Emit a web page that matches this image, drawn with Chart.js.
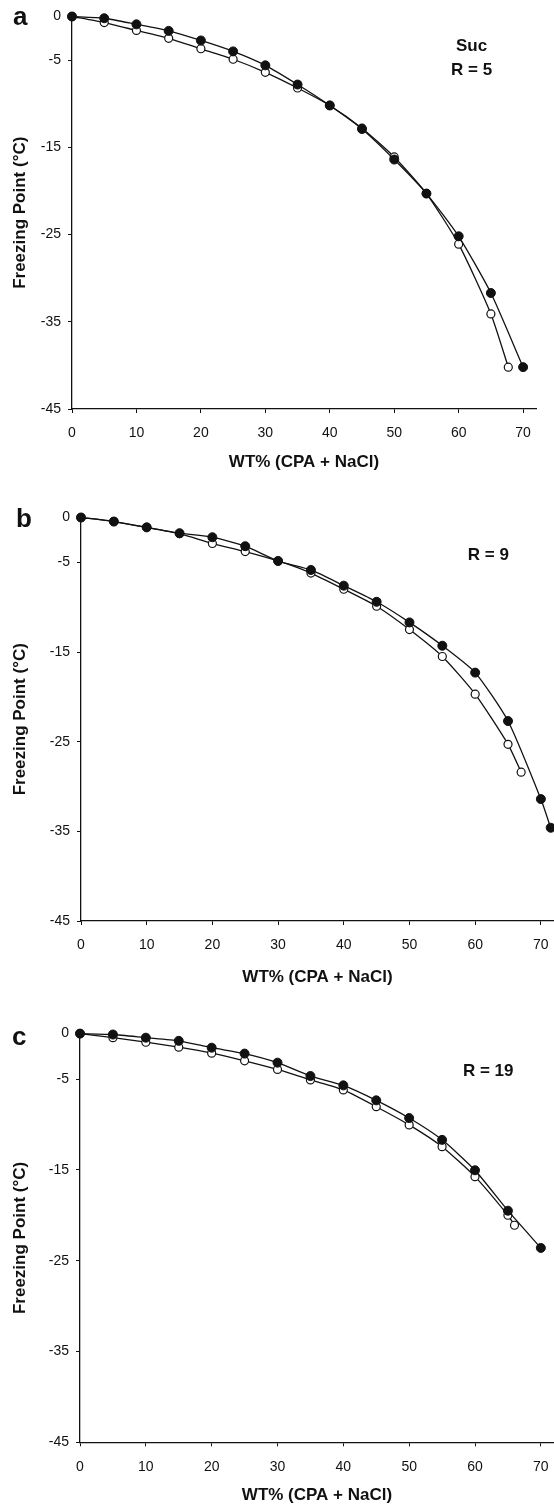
<!DOCTYPE html>
<html>
<head>
<meta charset="utf-8">
<script src="https://cdn.jsdelivr.net/npm/chart.js@4.4.1/dist/chart.umd.min.js"></script>
<style>
  body { margin: 0; background: #fff; }
  .panel { position: absolute; left: 0; width: 554px; }
</style>
</head>
<body>
<div class="panel" style="top:0;height:500px"><canvas id="chartA"></canvas></div>
<div class="panel" style="top:500px;height:500px"><canvas id="chartB"></canvas></div>
<div class="panel" style="top:1000px;height:506px"><canvas id="chartC"></canvas></div>
<script>
const xTicks = [0, 10, 20, 30, 40, 50, 60, 70];
const yTicks = [-45, -35, -25, -15, -5, 0];
const xTitle = "WT% (CPA + NaCl)";
const yTitle = "Freezing Point (°C)";

// panel a (Suc, R = 5)
const wtFilledA = [0, 5, 10, 15, 20, 25, 30, 35, 40, 45, 50, 55, 60, 65, 70];
const fpFilledA = [0, -0.2, -0.9, -1.65, -2.75, -4.0, -5.6, -7.8, -10.2, -12.9, -16.4, -20.3, -25.2, -31.7, -40.2];
const wtOpenA = [0, 5, 10, 15, 20, 25, 30, 35, 40, 45, 50, 55, 60, 65, 67.7];
const fpOpenA = [0, -0.7, -1.6, -2.5, -3.7, -4.9, -6.4, -8.2, -10.2, -12.8, -16.1, -20.3, -26.1, -34.1, -40.2];

// panel b (R = 9)
const wtFilledB = [0, 5, 10, 15, 20, 25, 30, 35, 40, 45, 50, 55, 60, 65, 70, 71.5];
const fpFilledB = [0, -0.45, -1.1, -1.75, -2.2, -3.2, -4.85, -5.85, -7.6, -9.4, -11.7, -14.3, -17.3, -22.7, -31.4, -34.6];
const wtOpenB = [0, 5, 10, 15, 20, 25, 30, 35, 40, 45, 50, 55, 60, 65, 67];
const fpOpenB = [0, -0.45, -1.1, -1.8, -2.9, -3.8, -4.85, -6.2, -8.0, -9.9, -12.5, -15.5, -19.7, -25.3, -28.4];

// panel c (R = 19)
const wtFilledC = [0, 5, 10, 15, 20, 25, 30, 35, 40, 45, 50, 55, 60, 65, 70];
const fpFilledC = [0, -0.1, -0.45, -0.8, -1.55, -2.2, -3.2, -4.67, -5.7, -7.35, -9.3, -11.7, -15.05, -19.5, -23.6];
const wtOpenC = [0, 5, 10, 15, 20, 25, 30, 35, 40, 45, 50, 55, 60, 65, 66];
const fpOpenC = [0, -0.45, -0.95, -1.5, -2.15, -3.0, -3.95, -5.1, -6.2, -8.05, -10.05, -12.45, -15.75, -20.0, -21.1];

const FONT = '"Liberation Sans", Arial, Helvetica, sans-serif';
const INK = "#111";

function pts(xs, ys) {
  return xs.map((x, i) => ({ x: x, y: ys[i] }));
}

const panelText = {
  id: "panelText",
  afterDraw(chart, args, opts) {
    const ctx = chart.ctx;
    const sx = chart.scales.x, sy = chart.scales.y;
    ctx.save();
    ctx.fillStyle = INK;
    ctx.font = "bold 26px " + FONT;
    ctx.textAlign = "left";
    ctx.textBaseline = "alphabetic";
    ctx.fillText(opts.letter, opts.letterX, opts.letterY);
    ctx.font = "bold 17px " + FONT;
    ctx.textAlign = "center";
    ctx.textBaseline = "middle";
    const cx = sx.getPixelForValue(opts.noteX);
    const cy = sy.getPixelForValue(opts.noteY);
    opts.notes.forEach((t, i) => {
      ctx.fillText(t, cx, cy + i * 24 - (opts.notes.length - 1) * 12);
    });
    ctx.restore();
  }
};

function makePanel(id, p) {
  const W = 554;
  new Chart(document.getElementById(id), {
    type: "scatter",
    data: {
      // first dataset is drawn last, so filled dots sit on top
      datasets: [
        {
          data: pts(p.wtFilled, p.fpFilled),
          showLine: true,
          borderColor: INK,
          borderWidth: 1.3,
          tension: 0.2,
          pointRadius: 4.5,
          pointBackgroundColor: INK,
          pointBorderColor: INK,
          pointBorderWidth: 1,
          clip: false
        },
        {
          data: pts(p.wtOpen, p.fpOpen),
          showLine: true,
          borderColor: INK,
          borderWidth: 1.3,
          tension: 0.2,
          pointRadius: 4,
          pointBackgroundColor: "#fff",
          pointBorderColor: INK,
          pointBorderWidth: 1.2,
          clip: false
        }
      ]
    },
    options: {
      responsive: true,
      maintainAspectRatio: false,
      animation: false,
      layout: {
        autoPadding: false,
        padding: { left: 0, right: W - p.right, top: p.top, bottom: p.padBottom }
      },
      plugins: {
        legend: { display: false },
        tooltip: { enabled: false },
        panelText: { letter: p.letter, letterX: p.letterX, letterY: p.letterY, notes: p.notes, noteX: 62, noteY: p.noteY }
      },
      scales: {
        x: {
          type: "linear",
          min: 0,
          max: 72,
          afterBuildTicks: (s) => { s.ticks = xTicks.map(v => ({ value: v })); },
          afterFit: (s) => {
            s.height = p.H - p.padBottom - p.bottom;
            s.paddingLeft = 0;
            s.paddingRight = 0;
          },
          border: { display: true, color: INK, width: 1.3 },
          grid: { display: true, drawOnChartArea: false, drawTicks: true, tickLength: 4, color: INK, lineWidth: 1 },
          ticks: { color: INK, padding: 12, maxRotation: 0, font: { family: FONT, size: 14 } },
          title: { display: true, text: xTitle, color: INK, padding: { top: 0, bottom: 0 }, font: { family: FONT, size: 17, weight: "bold" } }
        },
        y: {
          type: "linear",
          min: -45,
          max: 0,
          afterBuildTicks: (s) => { s.ticks = yTicks.map(v => ({ value: v })); },
          afterFit: (s) => {
            s.width = p.left;
            s.paddingTop = 0;
            s.paddingBottom = 0;
          },
          border: { display: true, color: INK, width: 1.3 },
          grid: { display: true, drawOnChartArea: false, drawTicks: true, tickLength: 4, color: INK, lineWidth: 1 },
          ticks: { color: INK, padding: 7, font: { family: FONT, size: 14 } },
          title: { display: true, text: yTitle, color: INK, padding: { top: 10, bottom: 0 }, font: { family: FONT, size: 17, weight: "bold" } }
        }
      }
    },
    plugins: [panelText]
  });
}

makePanel("chartA", {
  wtFilled: wtFilledA, fpFilled: fpFilledA, wtOpen: wtOpenA, fpOpen: fpOpenA,
  H: 500, left: 72, right: 536, top: 16.5, bottom: 409, padBottom: 27.8,
  letter: "a", letterX: 13, letterY: 25, notes: ["Suc", "R = 5"], noteY: -4.75
});
makePanel("chartB", {
  wtFilled: wtFilledB, fpFilled: fpFilledB, wtOpen: wtOpenB, fpOpen: fpOpenB,
  H: 500, left: 81, right: 554, top: 17.5, bottom: 421, padBottom: 12.8,
  letter: "b", letterX: 16, letterY: 27, notes: ["R = 9"], noteY: -4.2
});
makePanel("chartC", {
  wtFilled: wtFilledC, fpFilled: fpFilledC, wtOpen: wtOpenC, fpOpen: fpOpenC,
  H: 506, left: 80, right: 554, top: 33.6, bottom: 442.3, padBottom: 0,
  letter: "c", letterX: 12, letterY: 45, notes: ["R = 19"], noteY: -4.2
});
</script>
</body>
</html>
